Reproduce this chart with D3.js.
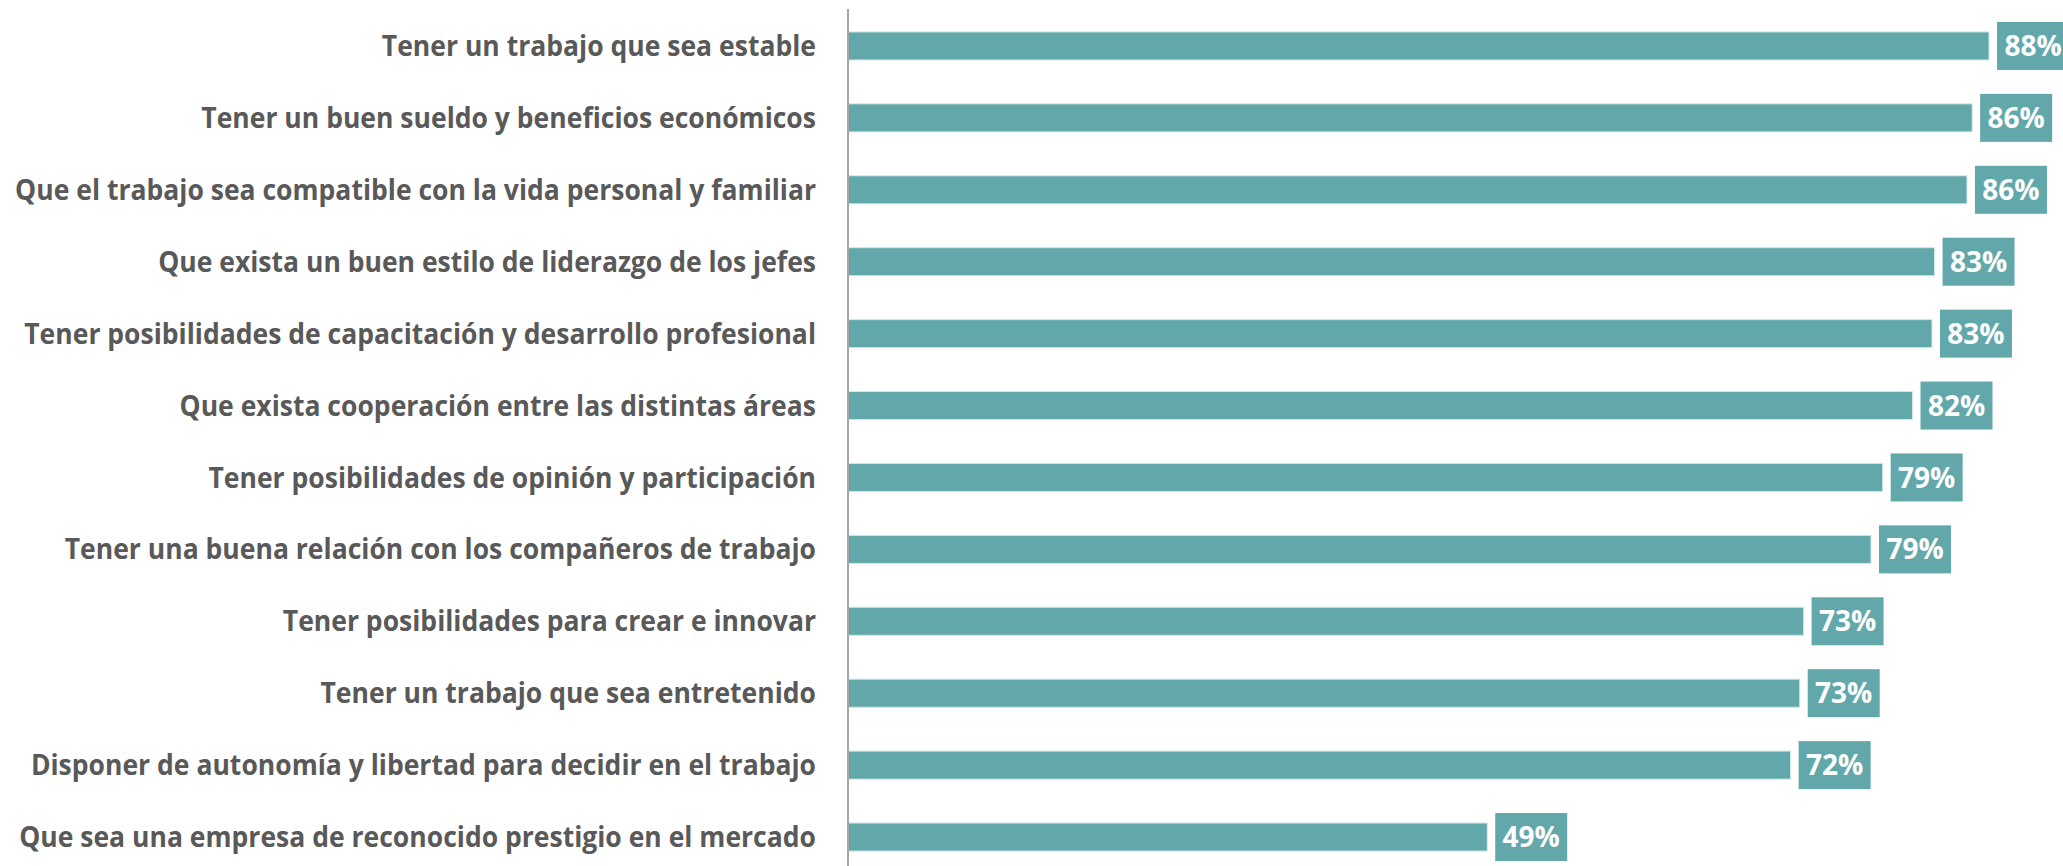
<!DOCTYPE html>
<html>
<head>
<meta charset="utf-8">
<script src="https://cdn.jsdelivr.net/npm/d3@7"></script>
<style>
  html, body { margin: 0; padding: 0; background: #fff; }
  svg { display: block; }
</style>
</head>
<body>
<svg class="bars"></svg>
<script>
const categories = [
  "Tener un trabajo que sea estable",
  "Tener un buen sueldo y beneficios económicos",
  "Que el trabajo sea compatible con la vida personal y familiar",
  "Que exista un buen estilo de liderazgo de los jefes",
  "Tener posibilidades de capacitación y desarrollo profesional",
  "Que exista cooperación entre las distintas áreas",
  "Tener posibilidades de opinión y participación",
  "Tener una buena relación con los compañeros de trabajo",
  "Tener posibilidades para crear e innovar",
  "Tener un trabajo que sea entretenido",
  "Disponer de autonomía y libertad para decidir en el trabajo",
  "Que sea una empresa de reconocido prestigio en el mercado"
];
// bar lengths (percent)
const values = [88.0, 86.7, 86.3, 83.8, 83.6, 82.1, 79.8, 78.9, 73.7, 73.4, 72.7, 49.3];
const valueLabels = ["88%", "86%", "86%", "83%", "83%", "82%", "79%", "79%", "73%", "73%", "72%", "49%"];

function draw(){
  const width = 2063;
  const height = 866;
  const axisX = 848;

  const svg = d3.select('svg.bars')
      .attr('width', width)
      .attr('height', height);

  const x = d3.scaleLinear()
      .domain([0, 100])
      .range([axisX, axisX + 1296.6]);

  const y = d3.scaleBand()
      .domain(categories)
      .range([10, 873])
      .paddingInner(0.61)
      .paddingOuter(0.305);

  const rows = categories.map((c, i) => ({cat: c, value: values[i], label: valueLabels[i]}));

  // bars
  svg.selectAll('rect.bar')
    .data(rows)
    .enter()
    .append('rect')
    .classed('bar', true)
    .attr('x', x(0))
    .attr('y', d => y(d.cat))
    .attr('width', d => x(d.value) - x(0))
    .attr('height', y.bandwidth())
    .style('fill', '#62a8ab')
    .style('stroke', '#d2e7e8')
    .style('stroke-width', 1);

  // value boxes
  const boxW = 72, boxH = 48;
  const g = svg.selectAll('g.val')
    .data(rows)
    .enter()
    .append('g')
    .classed('val', true)
    .attr('transform', d => `translate(${x(d.value) + 8}, ${y(d.cat) + y.bandwidth()/2})`);

  g.append('rect')
    .attr('x', 0)
    .attr('y', -boxH/2)
    .attr('width', boxW)
    .attr('height', boxH)
    .style('fill', '#62a8ab');

  g.append('text')
    .attr('x', boxW/2)
    .attr('y', 0)
    .attr('dy', '0.36em')
    .attr('text-anchor', 'middle')
    .style('font-family', '"Open Sans", sans-serif')
    .style('font-weight', 700)
    .style('font-size', '28px')
    .style('fill', '#fff')
    .text(d => d.label);

  // category labels (squeezed a little to match the narrow original face)
  svg.selectAll('text.cat')
    .data(rows)
    .enter()
    .append('text')
    .classed('cat', true)
    .attr('transform', d => `translate(816, ${y(d.cat) + y.bandwidth()/2}) scale(0.948, 1)`)
    .attr('dy', '0.36em')
    .attr('text-anchor', 'end')
    .style('font-family', '"Open Sans", sans-serif')
    .style('font-weight', 700)
    .style('font-size', '28px')
    .style('fill', '#595959')
    .text(d => d.cat);

  // vertical axis line
  svg.append('line')
    .attr('x1', axisX).attr('x2', axisX)
    .attr('y1', 9).attr('y2', height)
    .style('stroke', '#a6a6a6')
    .style('stroke-width', 2);
}

draw();
</script>
</body>
</html>
